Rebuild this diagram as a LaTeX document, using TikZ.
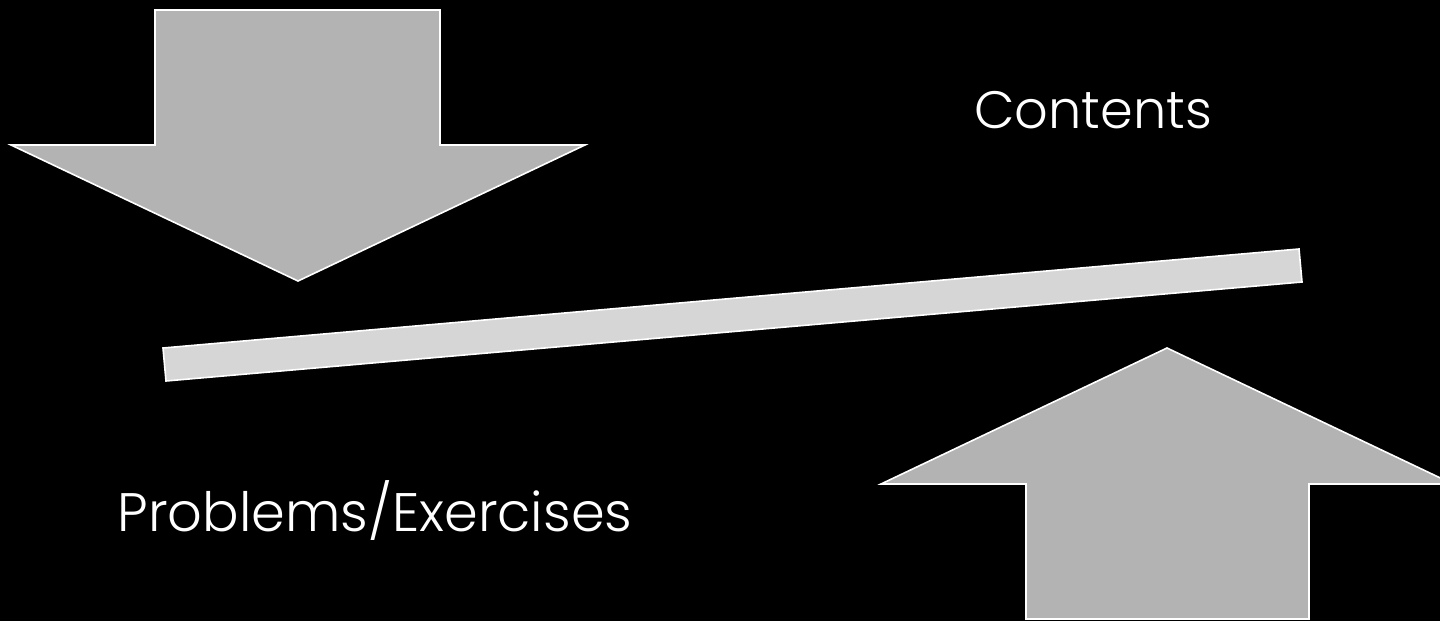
\documentclass[tikz,border=0pt]{standalone}
\usepackage{fontspec}
\setmainfont{Poppins Light}
\usetikzlibrary{positioning}

\definecolor{arrowgray}{HTML}{B3B3B3}
\definecolor{bargray}{HTML}{D6D6D6}

\tikzset{
    bigarrow/.style={fill=arrowgray, draw=white, line width=0.8pt, line join=miter},
    seesaw/.style={fill=bargray, draw=white, line width=0.8pt},
    caption/.style={text=white, anchor=base, inner sep=0pt},
}

\begin{document}
\begin{tikzpicture}[x=0.5pt,y=-0.5pt]
    \fill[black] (0,0) rectangle (1440,621);
    \useasboundingbox (0,0) rectangle (1440,621);
    % arrow pushing down
    \draw[bigarrow] (155,10) -- (440,10) -- (440,145) -- (585,145) -- (298,281)
        -- (11,145) -- (155,145) -- cycle;
    % arrow pushing up
    \draw[bigarrow] (1026,619) -- (1026,484) -- (881,484) -- (1167,348)
        -- (1453,484) -- (1309,484) -- (1309,619) -- cycle;
    % the beam
    \draw[seesaw] (163,348) -- (1299,249) -- (1302,282) -- (166,381) -- cycle;
    \node[caption, font=\fontsize{26.3}{31}\selectfont] (contents) at (1093,128) {Contents};
    \node[caption, font=\fontsize{27.1}{32}\selectfont] (problems) at (375,531) {Problems/Exercises};
\end{tikzpicture}
\end{document}
